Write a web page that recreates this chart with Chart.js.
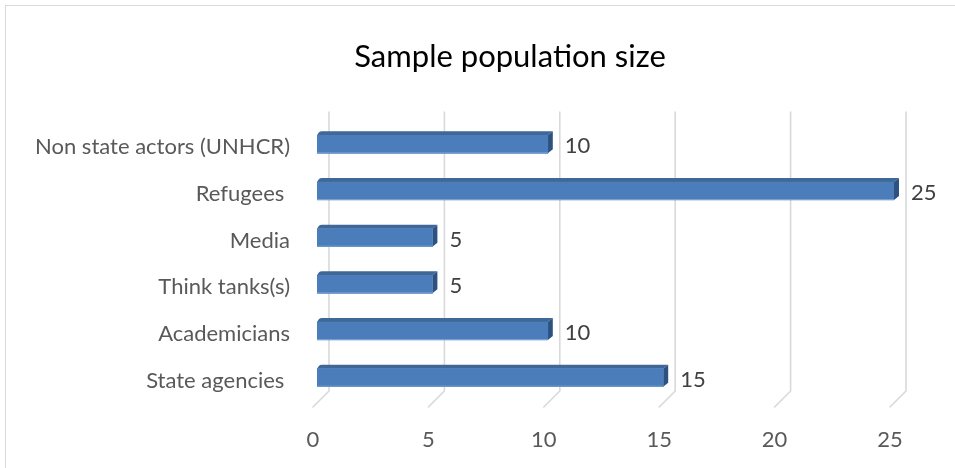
<!DOCTYPE html>
<html>
<head>
<meta charset="utf-8">
<script src="https://cdn.jsdelivr.net/npm/chart.js@4.4.1/dist/chart.umd.min.js"></script>
<style>
  html, body { margin: 0; padding: 0; background: #ffffff; }
  canvas { display: block; }
</style>
</head>
<body>
<canvas id="chart" width="955" height="468"></canvas>
<script>
// Sample groups, listed top to bottom
const categories = [
  'Non state actors (UNHCR)',
  'Refugees ',
  'Media',
  'Think tanks(s)',
  'Academicians',
  'State agencies '
];
const sampleSizes = [10, 25, 5, 5, 10, 15];
const axisMin = 0;
const axisMax = 25;
const axisStep = 5;
const chartTitle = 'Sample population size';

const FONT = 'Lato, "Open Sans", sans-serif';

// Depth of the back wall and of each bar, for the 3-D look
const WALL_DX = 16, WALL_DY = 16;
const BAR_DX = 5, BAR_DY = 4;
const FACE_SHIFT_X = 4, FACE_SHIFT_Y = -3;

// White card with a thin grey frame, and the centred title
const framePlugin = {
  id: 'frame',
  beforeDraw(chart) {
    const ctx = chart.ctx;
    ctx.save();
    ctx.fillStyle = '#ffffff';
    ctx.fillRect(0, 0, chart.width, chart.height);
    ctx.strokeStyle = '#d9d9d9';
    ctx.lineWidth = 1;
    ctx.strokeRect(5.5, 5.5, chart.width + 20, chart.height + 20);
    ctx.fillStyle = '#000000';
    ctx.font = '31px ' + FONT;
    ctx.textAlign = 'center';
    ctx.textBaseline = 'middle';
    ctx.fillText(chartTitle, (5 + chart.width + 60) / 2, 57);
    ctx.restore();
  }
};

// Back-wall gridlines plus the short floor lines
const wallPlugin = {
  id: 'wall',
  beforeDatasetsDraw(chart) {
    const ctx = chart.ctx;
    const xs = chart.scales.x;
    const area = chart.chartArea;
    ctx.save();
    ctx.strokeStyle = '#d9d9d9';
    ctx.lineWidth = 1.6;
    ctx.lineCap = 'round';
    for (let v = axisMin; v <= axisMax; v += axisStep) {
      const fx = xs.getPixelForValue(v);
      const bx = fx + WALL_DX;
      const floorY = area.bottom + 3;
      ctx.beginPath();
      ctx.moveTo(bx, area.top - 12);
      ctx.lineTo(bx, floorY - WALL_DY);
      ctx.lineTo(fx, floorY);
      ctx.stroke();
    }
    ctx.restore();
  }
};

// Top and side faces of each bar, then shift the front face drawn by Chart.js
const bar3dPlugin = {
  id: 'bar3d',
  beforeDatasetsDraw(chart) {
    const ctx = chart.ctx;
    const meta = chart.getDatasetMeta(0);
    ctx.save();
    meta.data.forEach((el) => {
      const x0 = el.base + FACE_SHIFT_X;
      const x1 = el.x + FACE_SHIFT_X;
      const top = el.y - el.height / 2 + FACE_SHIFT_Y;
      const bot = el.y + el.height / 2 + FACE_SHIFT_Y;
      // top face
      ctx.fillStyle = '#3f6898';
      ctx.beginPath();
      ctx.moveTo(x0, top);
      ctx.lineTo(x0 + 2, top - BAR_DY + 1);
      ctx.quadraticCurveTo(x0 + 3, top - BAR_DY, x0 + BAR_DX, top - BAR_DY);
      ctx.lineTo(x1 + BAR_DX, top - BAR_DY);
      ctx.lineTo(x1, top);
      ctx.closePath();
      ctx.fill();
      // side face
      ctx.fillStyle = '#2d5181';
      ctx.beginPath();
      ctx.moveTo(x1, top);
      ctx.lineTo(x1 + BAR_DX, top - BAR_DY);
      ctx.lineTo(x1 + BAR_DX, bot - BAR_DY);
      ctx.lineTo(x1, bot);
      ctx.closePath();
      ctx.fill();
    });
    ctx.translate(FACE_SHIFT_X, FACE_SHIFT_Y);
  },
  afterDatasetsDraw(chart) {
    const ctx = chart.ctx;
    ctx.restore();
    const meta = chart.getDatasetMeta(0);
    const data = chart.data.datasets[0].data;
    ctx.save();
    // soft highlight along the lower edge of each front face
    meta.data.forEach((el) => {
      const x0 = el.base + FACE_SHIFT_X;
      const x1 = el.x + FACE_SHIFT_X;
      const bot = el.y + el.height / 2 + FACE_SHIFT_Y;
      ctx.strokeStyle = 'rgba(140,175,220,0.7)';
      ctx.lineWidth = 1;
      ctx.beginPath();
      ctx.moveTo(x0, bot - 0.5);
      ctx.lineTo(x1, bot - 0.5);
      ctx.stroke();
    });
    // value labels
    ctx.fillStyle = '#404040';
    ctx.font = '22px ' + FONT;
    ctx.textAlign = 'left';
    ctx.textBaseline = 'middle';
    meta.data.forEach((el, i) => {
      ctx.fillText(String(data[i]), el.x + 21, el.y - 1);
    });
    ctx.restore();
  }
};

new Chart(document.getElementById('chart'), {
  type: 'bar',
  data: {
    labels: categories,
    datasets: [{
      data: sampleSizes,
      backgroundColor: '#4a7dba',
      borderWidth: 0,
      barThickness: 18
    }]
  },
  options: {
    indexAxis: 'y',
    responsive: false,
    animation: false,
    devicePixelRatio: 1,
    layout: { padding: { left: 0, right: 65, top: 124, bottom: 0 } },
    plugins: {
      legend: { display: false },
      tooltip: { enabled: false },
      title: { display: false }
    },
    scales: {
      x: {
        min: axisMin,
        max: axisMax,
        grid: { display: false },
        border: { display: false },
        ticks: {
          stepSize: axisStep,
          color: '#595959',
          font: { family: FONT, size: 22 },
          padding: 15,
          maxRotation: 0
        },
        afterFit(scale) { scale.height = 64; }
      },
      y: {
        grid: { display: false, drawTicks: false },
        border: { display: false },
        ticks: {
          color: '#595959',
          font: { family: FONT, size: 22 },
          padding: 23
        },
        afterFit(scale) { scale.width = 313; }
      }
    }
  },
  plugins: [framePlugin, wallPlugin, bar3dPlugin]
});
</script>
</body>
</html>
